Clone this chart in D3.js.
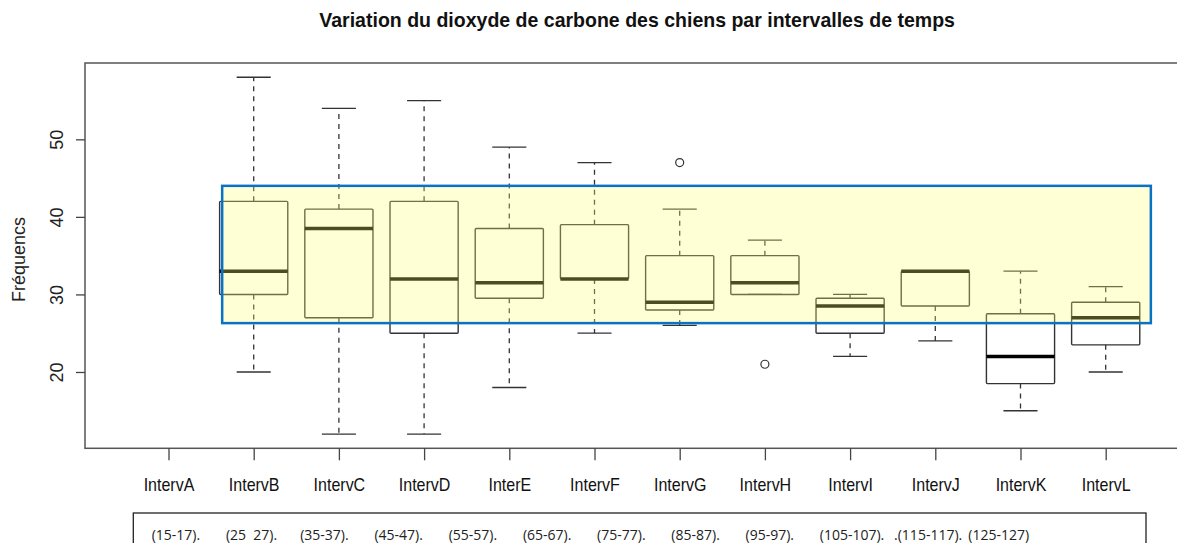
<!DOCTYPE html>
<html>
<head>
<meta charset="utf-8">
<script src="https://cdn.jsdelivr.net/npm/d3@7"></script>
<style>
  body { margin: 0; background: #fff; }
  svg { display: block; }
</style>
</head>
<body>
<div id="chart"></div>
<script>
// boxplot statistics (IntervA has no data)
const categories = ['IntervA', 'IntervB', 'IntervC', 'IntervD', 'InterE', 'IntervF',
                    'IntervG', 'IntervH', 'IntervI', 'IntervJ', 'IntervK', 'IntervL'];
const lowWhisker  = [null, 20, 12, 12, 18,   25, 26, 30,   22,   24,   15,   20];
const lowerQuart  = [null, 30, 27, 25, 29.5, 32, 28, 30,   25,   28.5, 18.5, 23.5];
const medians     = [null, 33, 38.5, 32, 31.5, 32, 29, 31.5, 28.5, 33, 22,   27];
const upperQuart  = [null, 42, 41, 42, 38.5, 39, 35, 35,   29.5, 33,   27.5, 29];
const highWhisker = [null, 58, 54, 55, 49,   47, 41, 37,   30,   33,   33,   31];
const outliers    = [[], [], [], [], [], [], [47], [21], [], [], [], []];
const yTicks = [20, 30, 40, 50];
const rangeLabels = ['(15-17).', '(25  27).', '(35-37).', '(45-47).', '(55-57).', '(65-67).',
                     '(75-77).', '(85-87).', '(95-97).', '(105-107). ', '.(115-117).', '(125-127)'];
// highlighted band, in data units
const band = { x0: 1.63, x1: 12.53, y0: 26.3, y1: 44.0 };

const w = 1177;
const h = 543;

const svg = d3.select('#chart')
    .append('svg')
    .attr('width', w)
    .attr('height', h);

const n = categories.length;
const xScale = d3.scaleLinear()
    .domain([0.5 - 0.04 * n, n + 0.5 + 0.04 * n])
    .range([85, 85 + (n + 0.96) * 85.2]);

const allVals = highWhisker.concat(lowWhisker).concat(outliers.flat()).filter(v => v != null);
const lo = d3.min(allVals), hi = d3.max(allVals);
const pad = (hi - lo) * 0.04;
const yScale = d3.scaleLinear()
    .domain([lo - pad, hi + pad])
    .range([448.3, 63]);

const boxes = categories.map((c, i) => ({
    name: c, pos: i + 1,
    lw: lowWhisker[i], q1: lowerQuart[i], med: medians[i], q3: upperQuart[i], hw: highWhisker[i],
    out: outliers[i]
})).filter(d => d.med != null);

const halfBox = 0.4, halfCap = 0.2;
const g = svg.append('g');

// whiskers
g.selectAll('line.wh-up')
    .data(boxes).enter().append('line')
    .attr('x1', d => xScale(d.pos)).attr('x2', d => xScale(d.pos))
    .attr('y1', d => yScale(d.q3)).attr('y2', d => yScale(d.hw))
    .attr('stroke', '#333').attr('stroke-width', 1.3).attr('stroke-dasharray', '5,5');
g.selectAll('line.wh-lo')
    .data(boxes).enter().append('line')
    .attr('x1', d => xScale(d.pos)).attr('x2', d => xScale(d.pos))
    .attr('y1', d => yScale(d.q1)).attr('y2', d => yScale(d.lw))
    .attr('stroke', '#333').attr('stroke-width', 1.3).attr('stroke-dasharray', '5,5');

// caps
['hw', 'lw'].forEach(k => {
    g.selectAll('line.cap-' + k)
        .data(boxes).enter().append('line')
        .attr('x1', d => xScale(d.pos - halfCap)).attr('x2', d => xScale(d.pos + halfCap))
        .attr('y1', d => yScale(d[k])).attr('y2', d => yScale(d[k]))
        .attr('stroke', '#333').attr('stroke-width', 1.3);
});

// boxes
g.selectAll('rect.box')
    .data(boxes).enter().append('rect')
    .attr('x', d => xScale(d.pos - halfBox))
    .attr('width', d => xScale(d.pos + halfBox) - xScale(d.pos - halfBox))
    .attr('y', d => yScale(d.q3))
    .attr('height', d => yScale(d.q1) - yScale(d.q3))
    .attr('fill', 'none').attr('stroke', '#333').attr('stroke-width', 1.4)
    .attr('rx', 1);

// medians
g.selectAll('line.med')
    .data(boxes).enter().append('line')
    .attr('x1', d => xScale(d.pos - halfBox)).attr('x2', d => xScale(d.pos + halfBox))
    .attr('y1', d => yScale(d.med)).attr('y2', d => yScale(d.med))
    .attr('stroke', '#000').attr('stroke-width', 3.5);

// outliers
g.selectAll('circle.out')
    .data(boxes.flatMap(d => d.out.map(v => ({ pos: d.pos, v }))))
    .enter().append('circle')
    .attr('cx', d => xScale(d.pos)).attr('cy', d => yScale(d.v))
    .attr('r', 4).attr('fill', 'none').attr('stroke', '#333').attr('stroke-width', 1.2);

// translucent yellow highlight on top of the boxes
svg.append('rect')
    .attr('x', xScale(band.x0)).attr('y', yScale(band.y1))
    .attr('width', xScale(band.x1) - xScale(band.x0))
    .attr('height', yScale(band.y0) - yScale(band.y1))
    .attr('fill', 'rgb(255,255,120)').attr('fill-opacity', 0.3);
svg.append('rect')
    .attr('x', xScale(band.x0)).attr('y', yScale(band.y1))
    .attr('width', xScale(band.x1) - xScale(band.x0))
    .attr('height', yScale(band.y0) - yScale(band.y1))
    .attr('fill', 'none').attr('stroke', '#0a72c4').attr('stroke-width', 2.5);

// plot frame
const [fx0, fx1] = xScale.range();
svg.append('rect')
    .attr('x', fx0).attr('y', 63)
    .attr('width', fx1 - fx0).attr('height', 448.3 - 63)
    .attr('fill', 'none').attr('stroke', '#555').attr('stroke-width', 1.5);

// axes
const xAxis = d3.axisBottom(xScale)
    .tickValues(d3.range(1, n + 1))
    .tickFormat(i => categories[i - 1])
    .tickSize(12)
    .tickPadding(18);
const xg = svg.append('g')
    .attr('transform', 'translate(0,448.3)')
    .call(xAxis);
xg.select('.domain').remove();
xg.selectAll('line').attr('stroke', '#444').attr('stroke-width', 1.3);
xg.selectAll('text')
    .attr('fill', '#111')
    .attr('transform', 'scale(0.89,1)')
    .style('font-family', '"Liberation Sans", Arial, sans-serif')
    .style('font-size', '18px');

const yAxis = d3.axisLeft(yScale)
    .tickValues(yTicks)
    .tickSize(9);
const yg = svg.append('g')
    .attr('transform', 'translate(85,0)')
    .call(yAxis);
yg.select('.domain').remove();
yg.selectAll('line').attr('stroke', '#444').attr('stroke-width', 1.3);
yg.selectAll('text')
    .attr('x', 0).attr('dy', null).attr('y', 0)
    .attr('text-anchor', 'middle')
    .attr('transform', 'translate(-21.7,0) rotate(-90)')
    .attr('fill', '#222')
    .style('font-family', '"Liberation Sans", Arial, sans-serif')
    .style('font-size', '18px');

// y label
svg.append('text')
    .attr('transform', 'translate(24.5,' + yScale(34.5) + ') rotate(-90)')
    .attr('text-anchor', 'middle')
    .attr('fill', '#222')
    .style('font-family', '"Liberation Sans", Arial, sans-serif')
    .style('font-size', '18px')
    .text('Fréquencs');

// title
svg.append('text')
    .attr('transform', 'translate(' + ((fx0 + fx1) / 2) + ',27) scale(0.93,1)')
    .attr('text-anchor', 'middle')
    .attr('fill', '#111')
    .style('font-family', '"Liberation Sans", Arial, sans-serif')
    .style('font-weight', 'bold')
    .style('font-size', '21px')
    .text('Variation du dioxyde de carbone des chiens par intervalles de temps');

// legend box with the time ranges
svg.append('rect')
    .attr('x', 133.3).attr('y', 513)
    .attr('width', 1146 - 133.3).attr('height', 60)
    .attr('fill', 'none').attr('stroke', '#222').attr('stroke-width', 1.3);

const labelX = d3.scalePoint()
    .domain(rangeLabels)
    .range([151.7, 968.3]);
svg.selectAll('text.range')
    .data(rangeLabels).enter().append('text')
    .attr('class', 'range')
    .attr('x', d => labelX(d)).attr('y', 540)
    .attr('fill', '#222')
    .style('font-family', '"Open Sans", sans-serif')
    .style('font-size', '14px')
    .style('white-space', 'pre')
    .text(d => d);
</script>
</body>
</html>
